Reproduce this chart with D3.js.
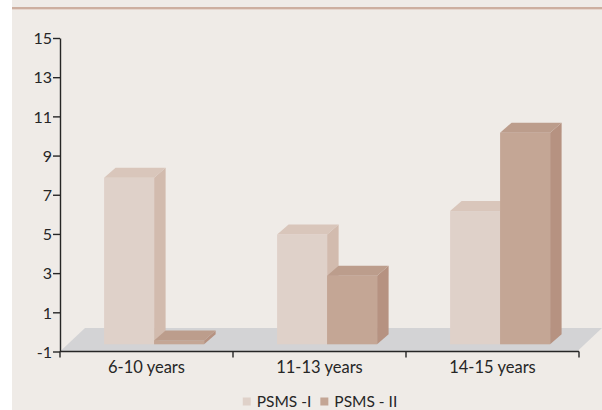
<!DOCTYPE html>
<html>
<head>
<meta charset="utf-8">
<script src="https://cdn.jsdelivr.net/npm/d3@7"></script>
<style>
  html, body { margin: 0; padding: 0; background: #ffffff; }
  svg { display: block; }
  text { font-family: "Lato", "Open Sans", sans-serif; fill: #262626; }
</style>
</head>
<body>
<svg id="chart" width="602" height="410"></svg>
<script>
// Age groups on the category axis
const categories = ["6-10 years", "11-13 years", "14-15 years"];
// Series names shown in the legend
const seriesNames = ["PSMS -I", "PSMS - II"];
// Values per age group
const psms1 = [7.5, 4.6, 5.8];
const psms2 = [-0.8, 2.5, 9.8];
// Value-axis tick labels
const yTicks = [-1, 1, 3, 5, 7, 9, 11, 13, 15];

const seriesValues = [psms1, psms2];

// Face colours per series: front, side, top
const faceColors = [
  { front: "#dfd1c9", side: "#d2bbae", top: "#d9c6bb" },
  { front: "#c4a695", side: "#b69281", top: "#bc9d8c" }
];

const svg = d3.select("#chart");

// Panel background and top rule
svg.append("rect").attr("x", 12).attr("y", 0).attr("width", 590).attr("height", 410)
  .attr("fill", "#efebe7");
svg.append("line").attr("x1", 12).attr("x2", 602).attr("y1", 8).attr("y2", 8)
  .attr("stroke", "#c29b89").attr("stroke-width", 1.6);
svg.append("line").attr("x1", 12).attr("x2", 602).attr("y1", 9.5).attr("y2", 9.5)
  .attr("stroke", "#e6d6cd").attr("stroke-width", 1);

// Scales
const x = d3.scaleBand().domain(categories).range([60, 579]).paddingInner(0).paddingOuter(0);
const xs = d3.scaleBand().domain(seriesNames).range([0, x.bandwidth()]).paddingInner(0).paddingOuter(0.73);
const y = d3.scaleLinear().domain([-1, 15]).range([351.5, 38]);

// Oblique depth: floor depth, bar front offset, bar depth
const floorD = { dx: 25, dy: -23.5 };
const barOff = { dx: 7.6, dy: -7.2 };
const barD = { dx: 11.5, dy: -10 };

const base = y.domain()[0];

// Floor
const fx0 = x.range()[0], fx1 = x.range()[1] - 2, fy = y(base);
svg.append("polygon")
  .attr("points", [
    [fx0, fy], [fx1, fy], [fx1 + floorD.dx, fy + floorD.dy], [fx0 + floorD.dx, fy + floorD.dy]
  ].map(p => p.join(",")).join(" "))
  .attr("fill", "#d3d3d5");

// Bars, drawn left to right so neighbours overlap correctly
const bars = [];
categories.forEach((c, ci) => {
  seriesNames.forEach((s, si) => {
    bars.push({ c, s, si, v: seriesValues[si][ci] });
  });
});

const barG = svg.append("g");
const pts = a => a.map(p => p.join(",")).join(" ");
bars.forEach(b => {
  const x0 = x(b.c) + xs(b.s) + barOff.dx;
  const x1 = x0 + xs.bandwidth();
  const yTop = y(b.v) + barOff.dy;
  const yBot = y(base) + barOff.dy;
  const col = faceColors[b.si];
  const g = barG.append("g");
  // side
  g.append("polygon").attr("points", pts([
    [x1, yTop], [x1 + barD.dx, yTop + barD.dy], [x1 + barD.dx, yBot + barD.dy], [x1, yBot]
  ])).attr("fill", col.side);
  // front
  g.append("rect").attr("x", x0).attr("y", yTop).attr("width", x1 - x0).attr("height", yBot - yTop)
    .attr("fill", col.front);
  // top
  g.append("polygon").attr("points", pts([
    [x0, yTop], [x1, yTop], [x1 + barD.dx, yTop + barD.dy], [x0 + barD.dx, yTop + barD.dy]
  ])).attr("fill", col.top);
});

// Value axis
const yAxis = svg.append("g").attr("transform", "translate(60,0)")
  .call(d3.axisLeft(y).tickValues(yTicks).tickSize(7).tickSizeOuter(0).tickPadding(1)
    .tickFormat(d => String(d)));
yAxis.selectAll("path, line").attr("stroke", "#262626").attr("stroke-width", 1.4);
yAxis.selectAll("text").attr("font-size", 16).style("font-family", "Lato, 'Open Sans', sans-serif")
  .attr("fill", "#262626").attr("dy", "0.36em");

// Category axis: line along the floor front, ticks at group boundaries
const xAxis = svg.append("g").attr("transform", `translate(0,${y(base)})`);
xAxis.append("line").attr("x1", x.range()[0]).attr("x2", x.range()[1])
  .attr("stroke", "#262626").attr("stroke-width", 1.5);
const bounds = categories.map(c => x(c)).concat([x(categories[categories.length - 1]) + x.bandwidth()]);
xAxis.selectAll("line.tick").data(bounds).enter().append("line")
  .attr("class", "tick")
  .attr("x1", d => d).attr("x2", d => d).attr("y1", 0).attr("y2", 6)
  .attr("stroke", "#262626").attr("stroke-width", 1.4);
xAxis.selectAll("text").data(categories).enter().append("text")
  .attr("x", d => x(d) + x.bandwidth() / 2)
  .attr("y", 21)
  .attr("text-anchor", "middle")
  .attr("font-size", 16.5)
  .text(d => d);

// Legend
const legend = svg.append("g");
const legendColors = faceColors.map(f => f.front);
let lx = 0;
seriesNames.forEach((name, i) => {
  const g = legend.append("g");
  g.append("rect").attr("x", 0).attr("y", -9.5).attr("width", 8).attr("height", 8)
    .attr("fill", legendColors[i]);
  const t = g.append("text").attr("x", 14).attr("y", 0).attr("font-size", 15.5).text(name);
  const w = 14 + t.node().getComputedTextLength();
  g.attr("transform", `translate(${lx},0)`);
  lx += w + 9;
});
const totalW = lx - 9;
legend.attr("transform", `translate(${320 - totalW / 2},407)`);
</script>
</body>
</html>
